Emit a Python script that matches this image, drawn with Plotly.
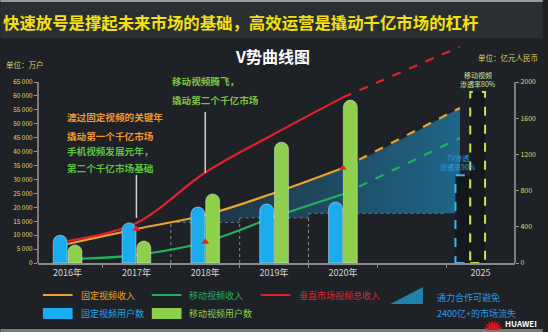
import math
import plotly.graph_objects as go

# ---------------- data ----------------
categories = ["2016年", "2017年", "2018年", "2019年", "2020年", "", "2025"]
hist_idx = [0, 1, 2, 3, 4]
proj_idx = 6

fixed_users = [10000, 14400, 20100, 21200, 21900]      # 固定视频用户数 (万户)
mobile_users = [6500, 7900, 24800, 43400, 58500]       # 移动视频用户数 (万户)
fixed_users_2025 = 31500
mobile_users_2025 = 61400

fixed_rev = [210, 376, 530, 773, 1050]                 # 固定视频收入 (亿元)
mobile_rev = [44, 88, 232, 508, 760]                   # 移动视频收入
total_rev = [243, 442, 1000, 1425, 1830]               # 垂直市场视频总收入
fixed_rev_2025 = 1713
mobile_rev_2025 = 1381
total_rev_2025 = 2390

plateau_edges = [1.5, 2.5, 3.5, 5.5]                   # 固定收入平台 (虚线框)
plateau_rev = [450, 500, 550]
gap_start_rev = 440                                    # 缺口起点处固定视频收入

left_ticks = list(range(0, 65001, 5000))
left_ticktext = [f"{v:,}".replace(",", " ") for v in left_ticks]
right_ticks = [0, 400, 800, 1200, 1600, 2000]
right_ticktext = [str(v) for v in right_ticks]

# ---------------- geometry / style ----------------
W, H = 548, 332
ML, MR, MT, MB = 38, 28, 41, 69
PW, PH = W - ML - MR, H - MT - MB
BOTTOM = H - MB
X_RANGE = [-0.43, 6.5]
REV_TOP = PH * 2000 / 181.0
RATIO = 65000 / 2000
USR_TOP = REV_TOP * RATIO
PROJ_X = proj_idx - 0.3
BAR_W = 0.215
FONT = "Noto Sans CJK SC"

ORANGE = "#eda22c"
GREEN_L = "#1fb25c"
RED = "#e1222b"
BLUE = "#19adef"
LGREEN = "#8fd04b"


def PX(px):
    return (px - ML) / PW


def PY(py):
    return (BOTTOM - py) / PH


fig = go.Figure()

# shaded gap area (between plateau and fixed revenue)
low_x, low_y = [], []
for i, v in enumerate(plateau_rev):
    low_x += [plateau_edges[i], plateau_edges[i + 1]]
    low_y += [v, v]
low_x[-1] = PROJ_X
fig.add_trace(go.Scatter(x=low_x, y=low_y, mode="lines", line=dict(width=0),
                         hoverinfo="skip", yaxis="y"))
fig.add_trace(go.Scatter(x=[plateau_edges[0]] + hist_idx[2:] + [PROJ_X],
                         y=[gap_start_rev] + fixed_rev[2:] + [fixed_rev_2025],
                         mode="lines", line=dict(width=0, shape="spline"),
                         fill="tonexty",
                         fillgradient=dict(type="horizontal",
                                           colorscale=[[0, "rgba(30,70,95,0.45)"],
                                                       [1, "rgba(30,115,155,0.85)"]]),
                         hoverinfo="skip", yaxis="y"))

# revenue lines
for vals, v25, col in [(total_rev, total_rev_2025, RED),
                       (fixed_rev, fixed_rev_2025, ORANGE),
                       (mobile_rev, mobile_rev_2025, GREEN_L)]:
    fig.add_trace(go.Scatter(x=hist_idx, y=vals, mode="lines",
                             line=dict(color=col, width=2.2, shape="spline", smoothing=1),
                             yaxis="y"))
    fig.add_trace(go.Scatter(x=[hist_idx[-1], PROJ_X], y=[vals[-1], v25], mode="lines",
                             line=dict(color=col, width=2.2, dash="dash"), yaxis="y"))

# user bars
fig.add_trace(go.Bar(x=hist_idx, y=fixed_users, marker=dict(color=BLUE, cornerradius="50%"),
                     yaxis="y2"))
fig.add_trace(go.Bar(x=hist_idx, y=mobile_users, marker=dict(color=LGREEN, cornerradius="50%"),
                     yaxis="y2"))

# key-point triangles
tri_x = [1, 2, 4]
tri_y = [fixed_rev[1] * RATIO, mobile_rev[2] * RATIO, fixed_rev[4] * RATIO]
fig.add_trace(go.Scatter(x=tri_x, y=tri_y, mode="markers",
                         marker=dict(symbol="triangle-up", size=7, color="#e8231e"),
                         yaxis="y2"))

shapes = []
# header & borders
shapes.append(dict(type="rect", xref="paper", yref="paper", x0=PX(0), x1=PX(W), y0=PY(38), y1=PY(0),
                   fillcolor="#2b2e33", line=dict(width=0), layer="below"))
shapes.append(dict(type="rect", xref="paper", yref="paper", x0=PX(0), x1=PX(W), y0=PY(2), y1=PY(0),
                   fillcolor="#9c9c9c", line=dict(width=0), layer="below"))
shapes.append(dict(type="rect", xref="paper", yref="paper", x0=PX(0), x1=PX(W), y0=PY(H), y1=PY(329),
                   fillcolor="#7a7a7a", line=dict(width=0), layer="below"))

# plateau dotted boxes
for i, v in enumerate(plateau_rev):
    x0, x1 = plateau_edges[i], plateau_edges[i + 1]
    shapes.append(dict(type="line", xref="x", yref="y", x0=x0, x1=x0, y0=0, y1=v,
                       line=dict(color="#8a8a8a", width=1, dash="dot"), layer="below"))
    shapes.append(dict(type="line", xref="x", yref="y", x0=x0, x1=x1, y0=v, y1=v,
                       line=dict(color="#8a8a8a", width=1, dash="dot"), layer="below"))

# axis lines
shapes.append(dict(type="line", xref="paper", yref="y2", x0=0, x1=0, y0=0, y1=left_ticks[-1],
                   line=dict(color="#9a9a9a", width=1.5)))
shapes.append(dict(type="line", xref="paper", yref="y", x0=1, x1=1, y0=0, y1=right_ticks[-1],
                   line=dict(color="#9a9a9a", width=1.5)))

# 2025 projected users (dashed boxes)
c = proj_idx - 0.15
shapes.append(dict(type="rect", xref="x", yref="y2", x0=c - BAR_W, x1=c, y0=0, y1=fixed_users_2025,
                   fillcolor="#14181d", line=dict(color="#3db2f5", width=2, dash="dash")))
shapes.append(dict(type="rect", xref="x", yref="y2", x0=c, x1=c + BAR_W, y0=0, y1=mobile_users_2025,
                   fillcolor="#14181d", line=dict(color="#c6e64e", width=2, dash="dash")))

# leader lines
shapes.append(dict(type="line", xref="x", yref="paper", x0=1, x1=1, y0=PY(218), y1=PY(175),
                   line=dict(color="#d0d0d0", width=1.5)))
shapes.append(dict(type="line", xref="x", yref="paper", x0=2, x1=2, y0=PY(173), y1=PY(112),
                   line=dict(color="#d0d0d0", width=1.5)))

# legend symbols
for px0, col in [(43, ORANGE), (153, GREEN_L), (263, RED)]:
    shapes.append(dict(type="line", xref="paper", yref="paper", x0=PX(px0), x1=PX(px0 + 30),
                       y0=PY(295), y1=PY(295), line=dict(color=col, width=2)))
for px0, col in [(43, BLUE), (153, LGREEN)]:
    shapes.append(dict(type="rect", xref="paper", yref="paper", x0=PX(px0), x1=PX(px0 + 30),
                       y0=PY(319), y1=PY(308), fillcolor=col, line=dict(width=0)))
shapes.append(dict(type="path", xref="paper", yref="paper",
                   path=f"M {PX(394)} {PY(304)} L {PX(427)} {PY(287)} L {PX(427)} {PY(304)} Z",
                   fillcolor="#1f80aa", line=dict(width=0)))

# Huawei petals
bx, by = 498, 330
for k in range(8):
    a = math.radians(15 + k * 150 / 7)
    L, w = 10, 2.2
    dx, dy = math.cos(a), -math.sin(a)
    nx, ny = -dy, dx
    tx, ty = bx + L * dx, by + L * dy
    c1 = (bx + 0.55 * L * dx + w * nx, by + 0.55 * L * dy + w * ny)
    c2 = (bx + 0.55 * L * dx - w * nx, by + 0.55 * L * dy - w * ny)
    p = (f"M {PX(bx)} {PY(by)} Q {PX(c1[0])} {PY(c1[1])} {PX(tx)} {PY(ty)} "
         f"Q {PX(c2[0])} {PY(c2[1])} {PX(bx)} {PY(by)} Z")
    shapes.append(dict(type="path", xref="paper", yref="paper", path=p,
                       fillcolor="#e3141c", line=dict(width=0)))

annotations = []


def text(t, px, py, size, color, anchor="left", bold=False):
    annotations.append(dict(text=f"<b>{t}</b>" if bold else t, x=PX(px), y=PY(py),
                            xref="paper", yref="paper", xanchor=anchor, yanchor="middle",
                            showarrow=False, font=dict(family=FONT, size=size, color=color)))


text("快速放号是撑起未来市场的基础，高效运营是撬动千亿市场的杠杆", 1, 22, 16.4, "#f4e400", bold=True)
text("V势曲线图", 275, 56, 16, "#ffffff", anchor="center", bold=True)
text("单位：万户", 4, 64, 7.5, "#ddd46a")
text("单位：亿元人民币", 481, 57, 7.5, "#ddd46a")

text("渡过固定视频的关键年", 65, 117, 9.6, "#ee9a2a", bold=True)
text("撬动第一个千亿市场", 65, 136, 9.6, "#ee9a2a", bold=True)
text("手机视频发展元年，", 65, 151, 9.6, "#5fc23c", bold=True)
text("第二个千亿市场基础", 65, 168, 9.6, "#5fc23c", bold=True)
text("移动视频腾飞，", 171, 81, 9.6, "#7cc442", bold=True)
text("撬动第二个千亿市场", 171, 100, 9.6, "#7cc442", bold=True)

text("移动视频", 483, 75, 7, "#c7e4a2", anchor="center")
text("渗透率80%", 483, 84, 7, "#c7e4a2", anchor="center")
text("TV渗透", 462, 158, 7, "#2a9be0", anchor="center")
text("渗透率90%", 462, 167, 7, "#2a9be0", anchor="center")

text("固定视频收入", 79, 295, 9, ORANGE)
text("移动视频收入", 189, 295, 9, GREEN_L)
text("垂直市场视频总收入", 300, 295, 9, RED)
text("固定视频用户数", 79, 313, 9, "#1ea8e8")
text("移动视频用户数", 189, 313, 9, LGREEN)
text("通力合作可避免", 439, 297, 9, "#2a9be0")
text("2400亿+的市场流失", 439, 313, 9, "#2a9be0")
text("HUAWEI", 508, 323, 8, "#ffffff", bold=True)

fig.update_layout(
    width=W, height=H,
    margin=dict(l=ML, r=MR, t=MT, b=MB, pad=0),
    paper_bgcolor="#1e2126", plot_bgcolor="rgba(0,0,0,0)",
    showlegend=False, barmode="group", bargap=0.57, bargroupgap=0.06,
    font=dict(family=FONT),
    xaxis=dict(range=X_RANGE, tickmode="array",
               tickvals=hist_idx + [proj_idx],
               ticktext=[categories[i] for i in hist_idx + [proj_idx]],
               showline=True, linecolor="#8c8c8c", linewidth=1.5,
               ticks="", showgrid=False, zeroline=False,
               tickfont=dict(size=9, color="#d8d8d8"),
               minor=dict(tickmode="array", tickvals=[i + 0.5 for i in range(6)],
                          ticks="outside", ticklen=3, tickcolor="#8c8c8c")),
    yaxis=dict(range=[0, REV_TOP], side="right", tickmode="array",
               tickvals=right_ticks, ticktext=right_ticktext,
               ticks="outside", ticklen=3, tickcolor="#9a9a9a",
               showgrid=False, zeroline=False, showline=False,
               tickfont=dict(size=7, color="#e0d66a")),
    yaxis2=dict(range=[0, USR_TOP], side="left", overlaying="y", tickmode="array",
                tickvals=left_ticks, ticktext=left_ticktext,
                ticks="outside", ticklen=3, tickcolor="#9a9a9a",
                showgrid=False, zeroline=False, showline=False,
                tickfont=dict(size=6.5, color="#e0d66a")),
    shapes=shapes, annotations=annotations,
)

fig.write_html("out.html")
